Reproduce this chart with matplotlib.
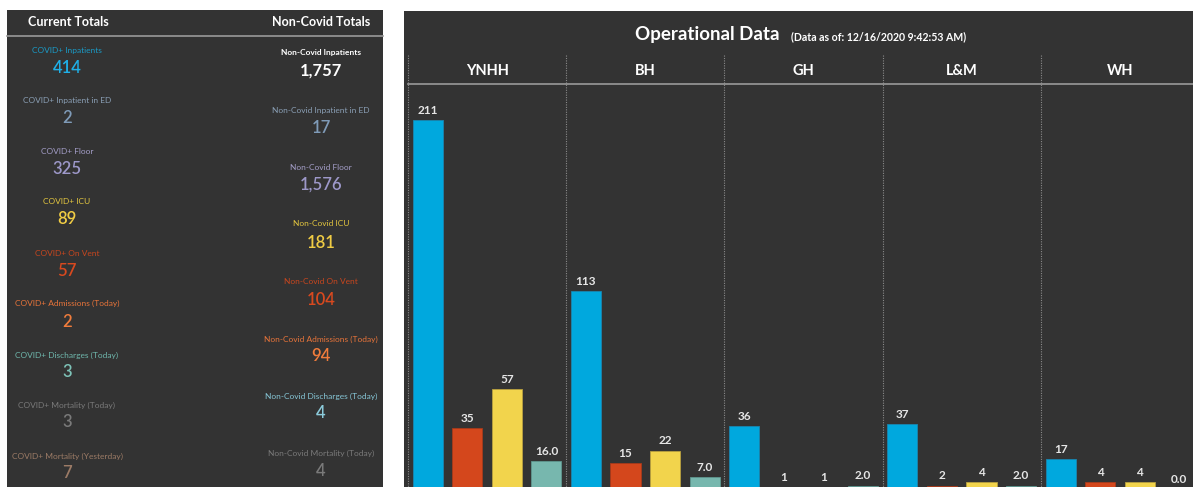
import matplotlib.pyplot as plt
from matplotlib.patches import Rectangle
from matplotlib.lines import Line2D
from matplotlib.transforms import blended_transform_factory

# --- left panel: current totals ---
left_labels = ['COVID+ Inpatients', 'COVID+ Inpatient in ED', 'COVID+ Floor', 'COVID+ ICU',
               'COVID+ On Vent', 'COVID+ Admissions (Today)', 'COVID+ Discharges (Today)',
               'COVID+ Mortality (Today)', 'COVID+ Mortality (Yesterday)']
left_values = ['414', '2', '325', '89', '57', '2', '3', '3', '7']
right_labels = ['Non-Covid Inpatients', 'Non-Covid Inpatient in ED', 'Non-Covid Floor',
                'Non-Covid ICU', 'Non-Covid On Vent', 'Non-Covid Admissions (Today)',
                'Non-Covid Discharges (Today)', 'Non-Covid Mortality (Today)']
right_values = ['1,757', '17', '1,576', '181', '104', '94', '4', '4']

# --- right panel: operational data by hospital ---
hospitals = ['YNHH', 'BH', 'GH', 'L&M', 'WH']
covid_inpatients = [211, 113, 36, 37, 17]
covid_vent = [35, 15, 1, 2, 4]
covid_icu = [57, 22, 1, 4, 4]
covid_other = [16.0, 7.0, 2.0, 2.0, 0.0]

W, H = 1193, 487
BG = '#333333'
plt.rcParams['font.family'] = ['Lato', 'DejaVu Sans']

fig = plt.figure(figsize=(W / 100, H / 100), dpi=100, facecolor='white')


def fx(px):
    return px / W


def fy(py):
    return 1 - py / H


fig.patches.append(Rectangle((fx(7), 0), fx(383) - fx(7), fy(10), transform=fig.transFigure,
                             facecolor=BG, edgecolor='none', zorder=-5))
fig.patches.append(Rectangle((fx(404), 0), 1 - fx(404), fy(11), transform=fig.transFigure,
                             facecolor=BG, edgecolor='none', zorder=-5))

# left panel header
fig.text(fx(68), fy(22), 'Current Totals', color='white', fontsize=9, fontweight='bold',
         ha='center', va='center')
fig.text(fx(321), fy(22), 'Non-Covid Totals', color='white', fontsize=9, fontweight='bold',
         ha='center', va='center')
fig.lines.append(Line2D([fx(7), fx(383)], [fy(36), fy(36)], transform=fig.transFigure,
                        color='#9a9a9a', lw=1.2))

left_label_col = ['#1a9bc7', '#8a9fb5', '#a49ec8', '#e3c63f', '#c8461e', '#e8743a',
                  '#6fb8ad', '#7a7a7a', '#9c7b66']
left_value_col = ['#1fb0e8', '#7f9bb8', '#9d98c9', '#f0cc44', '#d8491f', '#f07c3c',
                  '#7ec3b8', '#7a7a7a', '#9c7b66']
left_y = [(51, 68), (101, 118), (151, 169), (202, 219), (253, 271), (303, 322),
          (355, 372), (405, 422), (456, 473)]
for lab, val, lc, vc, (ly, vy) in zip(left_labels, left_values, left_label_col,
                                      left_value_col, left_y):
    fig.text(fx(67), fy(ly), lab, color=lc, fontsize=6, ha='center', va='center')
    fig.text(fx(67), fy(vy), val, color=vc, fontsize=12, ha='center', va='center',
             fontweight='semibold')

right_label_col = ['white', '#8a9fb5', '#a49ec8', '#e3c63f', '#c8461e', '#e8743a',
                   '#86c6d6', '#7a7a7a']
right_value_col = ['white', '#7f9bb8', '#9d98c9', '#f0cc44', '#d8491f', '#f07c3c',
                   '#8ccbdb', '#7a7a7a']
right_y = [(53, 71), (110, 128), (168, 185), (224, 243), (282, 300), (339, 356),
           (396, 413), (453, 471)]
for i, (lab, val, lc, vc, (ly, vy)) in enumerate(zip(right_labels, right_values, right_label_col,
                                                     right_value_col, right_y)):
    fig.text(fx(321), fy(ly), lab, color=lc, fontsize=6, ha='center', va='center',
             fontweight='bold' if i == 0 else 'normal')
    fig.text(fx(321), fy(vy), val, color=vc, fontsize=12, ha='center', va='center',
             fontweight='bold' if i == 0 else 'semibold')

# right panel title
fig.text(fx(635), fy(40), 'Operational Data', color='white', fontsize=13.5, fontweight='bold',
         ha='left', va='baseline')
fig.text(fx(791), fy(40), '(Data as of: 12/16/2020 9:42:53 AM)', color='white', fontsize=7.6,
         fontweight='bold', ha='left', va='baseline')

# bars (last group runs slightly past the right edge, as in the dashboard)
ax = fig.add_axes([fx(408), 0, fx(791), fy(84)])
ax.set_facecolor('none')
series = [covid_inpatients, covid_vent, covid_icu, covid_other]
colors = ['#00a8de', '#d4471c', '#f2d44c', '#77b7ae']
edges = ['#1a86b0', '#a83a1a', '#b9a040', '#5f9790']
n = len(series)
for s, (vals, c, ec) in enumerate(zip(series, colors, edges)):
    xs = [g * n + s for g in range(len(hospitals))]
    ax.bar(xs, vals, width=0.76, color=c, edgecolor=ec, linewidth=0.6, zorder=2)
    for x, v in zip(xs, vals):
        txt = f'{v:.1f}' if s == 3 else f'{v:d}'
        ax.annotate(txt, (x, v), xytext=(0, 4.5), textcoords='offset points', ha='center',
                    va='baseline', color='#e6e6e6', fontsize=8.5, fontweight='bold',
                    annotation_clip=False)

ax.set_xlim(-0.5, len(hospitals) * n - 0.5)
ax.set_ylim(1.2, 1.2 + (H - 84) / 1.75)
ax.axis('off')

# header line, separators and hospital names
fig.lines.append(Line2D([fx(408), 1], [fy(84), fy(84)], transform=fig.transFigure,
                        color='#9a9a9a', lw=1.2))
bt = blended_transform_factory(ax.transData, fig.transFigure)
for g, name in enumerate(hospitals):
    ax.plot([g * n - 0.5, g * n - 0.5], [fy(55), 0], transform=bt, color='#8a8a8a',
            lw=0.8, ls=(0, (1, 1.2)), clip_on=False, zorder=1)
    ax.text(g * n + (n - 1) / 2, fy(71), name, transform=bt, color='white', fontsize=10.5,
            fontweight='bold', ha='center', va='center')

fig.savefig('out.png', dpi=100, facecolor='white')
